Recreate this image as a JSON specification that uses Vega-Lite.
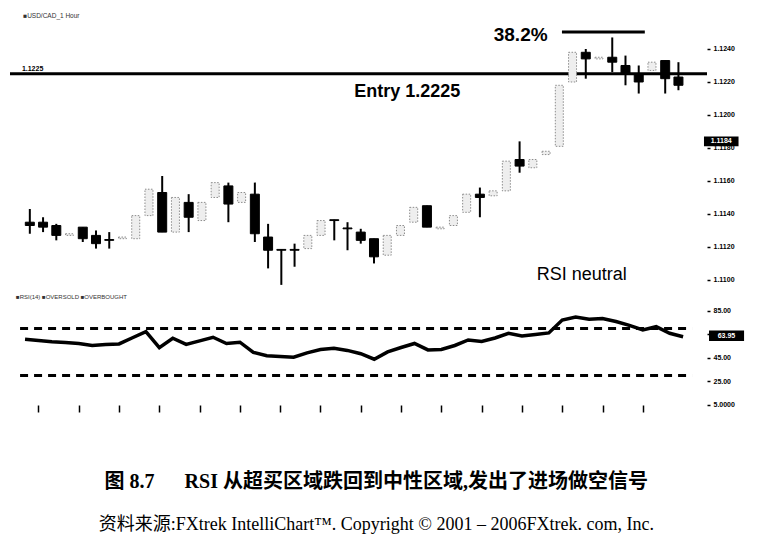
{
  "$schema": "https://vega.github.io/schema/vega-lite/v6.json",
  "background": "white",
  "padding": {"left": 8, "top": 0, "right": 5, "bottom": 5},
  "config": {
    "view": {"stroke": null},
    "axis": {"grid": false, "domain": false, "labelFont": "Liberation Sans", "labelFontSize": 7, "labelFontWeight": "bold", "labelColor": "#000", "tickColor": "#000", "tickWidth": 1.5, "labelOverlap": false}
  },
  "data": {"values": [
    {"i":1,"o":1.1135,"h":1.1143,"l":1.1128,"c":1.1133,"rsi":60.9},
    {"i":2,"o":1.1135,"h":1.1138,"l":1.1129,"c":1.1132,"rsi":59.9},
    {"i":3,"o":1.1133,"h":1.1134,"l":1.1124,"c":1.1127,"rsi":58.8},
    {"i":4,"o":1.1127,"h":1.1128,"l":1.1127,"c":1.1128,"rsi":58.2},
    {"i":5,"o":1.1132,"h":1.1132,"l":1.1123,"c":1.1125,"rsi":57.3},
    {"i":6,"o":1.1127,"h":1.1130,"l":1.1119,"c":1.1122,"rsi":55.6},
    {"i":7,"o":1.11245,"h":1.1129,"l":1.1119,"c":1.1124,"rsi":56.5},
    {"i":8,"o":1.1125,"h":1.1126,"l":1.1125,"c":1.1126,"rsi":56.9},
    {"i":9,"o":1.1125,"h":1.1140,"l":1.1124,"c":1.1139,"rsi":62.2},
    {"i":10,"o":1.1139,"h":1.1156,"l":1.1138,"c":1.1155,"rsi":67.4},
    {"i":11,"o":1.1153,"h":1.1163,"l":1.1129,"c":1.1129,"rsi":53.8},
    {"i":12,"o":1.1129,"h":1.1151,"l":1.1128,"c":1.1150,"rsi":61.8},
    {"i":13,"o":1.1147,"h":1.1152,"l":1.1129,"c":1.1138,"rsi":56.5},
    {"i":14,"o":1.1136,"h":1.1148,"l":1.1135,"c":1.1147,"rsi":59.5},
    {"i":15,"o":1.1150,"h":1.1160,"l":1.1149,"c":1.1159,"rsi":62.6},
    {"i":16,"o":1.1157,"h":1.1159,"l":1.1135,"c":1.1146,"rsi":57.3},
    {"i":17,"o":1.1147,"h":1.1154,"l":1.1146,"c":1.1153,"rsi":58.4},
    {"i":18,"o":1.1152,"h":1.1159,"l":1.1123,"c":1.1128,"rsi":49.7},
    {"i":19,"o":1.1126,"h":1.1134,"l":1.1107,"c":1.1118,"rsi":46.9},
    {"i":20,"o":1.11185,"h":1.11185,"l":1.1097,"c":1.1118,"rsi":46.3},
    {"i":21,"o":1.11185,"h":1.1122,"l":1.1108,"c":1.1118,"rsi":45.6},
    {"i":22,"o":1.1119,"h":1.1128,"l":1.1118,"c":1.1127,"rsi":49.3},
    {"i":23,"o":1.1127,"h":1.1137,"l":1.1126,"c":1.1136,"rsi":52.2},
    {"i":24,"o":1.11365,"h":1.11365,"l":1.1124,"c":1.1136,"rsi":53.2},
    {"i":25,"o":1.11315,"h":1.1135,"l":1.1118,"c":1.1131,"rsi":51.4},
    {"i":26,"o":1.1129,"h":1.1131,"l":1.1122,"c":1.1124,"rsi":48.6},
    {"i":27,"o":1.1125,"h":1.1125,"l":1.1110,"c":1.1114,"rsi":43.9},
    {"i":28,"o":1.1115,"h":1.1128,"l":1.1114,"c":1.1127,"rsi":50.1},
    {"i":29,"o":1.1127,"h":1.1134,"l":1.1126,"c":1.1133,"rsi":53.9},
    {"i":30,"o":1.1135,"h":1.1145,"l":1.1134,"c":1.1144,"rsi":57.3},
    {"i":31,"o":1.1145,"h":1.1145,"l":1.1132,"c":1.1132,"rsi":51.8},
    {"i":32,"o":1.1131,"h":1.1132,"l":1.1131,"c":1.1132,"rsi":52.2},
    {"i":33,"o":1.1133,"h":1.1140,"l":1.1132,"c":1.1139,"rsi":55.6},
    {"i":34,"o":1.1141,"h":1.1153,"l":1.1140,"c":1.1152,"rsi":60.3},
    {"i":35,"o":1.1152,"h":1.1156,"l":1.1138,"c":1.1150,"rsi":59.0},
    {"i":36,"o":1.1151,"h":1.1155,"l":1.1150,"c":1.1154,"rsi":62.0},
    {"i":37,"o":1.1154,"h":1.1173,"l":1.1153,"c":1.1172,"rsi":65.9},
    {"i":38,"o":1.1173,"h":1.1184,"l":1.1165,"c":1.1169,"rsi":63.7},
    {"i":39,"o":1.1168,"h":1.1174,"l":1.1167,"c":1.1173,"rsi":65.0},
    {"i":40,"o":1.1176,"h":1.1178,"l":1.1176,"c":1.1178,"rsi":66.3},
    {"i":41,"o":1.1181,"h":1.1219,"l":1.1180,"c":1.1218,"rsi":77.3},
    {"i":42,"o":1.1220,"h":1.1239,"l":1.1219,"c":1.1238,"rsi":79.9},
    {"i":43,"o":1.1238,"h":1.1240,"l":1.1222,"c":1.1234,"rsi":78.0},
    {"i":44,"o":1.1234,"h":1.1235,"l":1.1234,"c":1.1235,"rsi":78.6},
    {"i":45,"o":1.1235,"h":1.1247,"l":1.1226,"c":1.1232,"rsi":76.0},
    {"i":46,"o":1.1230,"h":1.1236,"l":1.1218,"c":1.1225,"rsi":72.7},
    {"i":47,"o":1.1225,"h":1.1230,"l":1.1213,"c":1.1220,"rsi":68.8},
    {"i":48,"o":1.1227,"h":1.1233,"l":1.1226,"c":1.1232,"rsi":71.6},
    {"i":49,"o":1.1233,"h":1.1233,"l":1.1213,"c":1.1222,"rsi":66.0},
    {"i":50,"o":1.1223,"h":1.1232,"l":1.1215,"c":1.1218,"rsi":63.1}
  ]},
  "title": {
    "text": "图 8.7\u2003\u2002RSI 从超买区域跌回到中性区域,发出了进场做空信号",
    "subtitle": "资料来源:FXtrek IntelliChart™. Copyright © 2001 – 2006FXtrek. com, Inc.",
    "orient": "bottom", "anchor": "middle", "offset": 59,
    "font": "'Liberation Serif', 'Noto Sans CJK SC'", "fontSize": 20, "fontWeight": "bold", "color": "#000",
    "subtitleFont": "'Liberation Serif', 'Noto Sans CJK SC'", "subtitleFontSize": 18, "subtitleColor": "#000", "subtitlePadding": 24
  },
  "spacing": 0,
  "vconcat": [
    {
      "width": 697,
      "height": 290,
      "layer": [
        {
          "data": {"values": [{}]},
          "mark": {"type": "rule", "strokeWidth": 3, "color": "#000"},
          "encoding": {
            "y": {"datum": 1.1225, "type": "quantitative",
              "scale": {"domain": [1.10939, 1.12697], "nice": false, "zero": false},
              "axis": {"orient": "right", "values": [1.11, 1.112, 1.114, 1.116, 1.118, 1.12, 1.122, 1.124], "tickCount": 20, "format": ".4f", "title": null, "tickSize": 3, "labelPadding": 3}}
          }
        },
        {
          "transform": [{"filter": "datum.c < datum.o"}],
          "mark": {"type": "rule", "strokeWidth": 2, "color": "#000"},
          "encoding": {
            "x": {"field": "i", "type": "quantitative", "scale": {"domain": [-0.12, 51.78], "nice": false, "zero": false}, "axis": null},
            "y": {"field": "l", "type": "quantitative", "title": null},
            "y2": {"field": "h"}
          }
        },
        {
          "transform": [{"filter": "datum.c < datum.o"}],
          "mark": {"type": "bar", "orient": "vertical", "size": 9, "color": "#000", "stroke": "#000", "strokeWidth": 1},
          "encoding": {
            "x": {"field": "i", "type": "quantitative", "axis": null},
            "y": {"field": "o", "type": "quantitative", "title": null},
            "y2": {"field": "c"}
          }
        },
        {
          "transform": [{"filter": "datum.c >= datum.o"}],
          "mark": {"type": "bar", "orient": "vertical", "size": 8, "fill": "#eeeeee", "stroke": "#8c8c8c", "strokeWidth": 1, "strokeDash": [1.5, 1.5]},
          "encoding": {
            "x": {"field": "i", "type": "quantitative", "axis": null},
            "y": {"field": "o", "type": "quantitative", "title": null},
            "y2": {"field": "c"}
          }
        },
        {
          "data": {"values": [{}]},
          "mark": {"type": "rule", "strokeWidth": 3, "color": "#000"},
          "encoding": {
            "x": {"datum": 41.2, "type": "quantitative", "axis": null},
            "x2": {"datum": 47.46},
            "y": {"datum": 1.12503, "type": "quantitative"}
          }
        },
        {
          "data": {"values": [{}]},
          "mark": {"type": "text", "text": "38.2%", "font": "Liberation Sans", "fontSize": 19, "fontWeight": "bold", "align": "center", "baseline": "middle", "color": "#000"},
          "encoding": {
            "x": {"datum": 38.08, "type": "quantitative", "axis": null},
            "y": {"datum": 1.12485, "type": "quantitative"}
          }
        },
        {
          "data": {"values": [{}]},
          "mark": {"type": "text", "text": "Entry 1.2225", "font": "Liberation Sans", "fontSize": 18, "fontWeight": "bold", "align": "center", "baseline": "middle", "color": "#000"},
          "encoding": {
            "x": {"datum": 29.52, "type": "quantitative", "axis": null},
            "y": {"datum": 1.12139, "type": "quantitative"}
          }
        },
        {
          "data": {"values": [{}]},
          "mark": {"type": "text", "text": "RSI neutral", "font": "Liberation Sans", "fontSize": 18, "align": "center", "baseline": "middle", "color": "#000"},
          "encoding": {
            "x": {"datum": 42.7, "type": "quantitative", "axis": null},
            "y": {"datum": 1.1103, "type": "quantitative"}
          }
        },
        {
          "data": {"values": [{}]},
          "mark": {"type": "text", "text": "1.1225", "font": "Liberation Sans", "fontSize": 7, "fontWeight": "bold", "align": "left", "baseline": "bottom", "color": "#000"},
          "encoding": {
            "x": {"datum": 0.4, "type": "quantitative", "axis": null},
            "y": {"datum": 1.1226, "type": "quantitative"}
          }
        },
        {
          "data": {"values": [{}]},
          "mark": {"type": "text", "text": "■USD/CAD_1 Hour", "font": "Liberation Sans", "fontSize": 6.5, "align": "left", "baseline": "middle", "color": "#333"},
          "encoding": {
            "x": {"datum": 0.5, "type": "quantitative", "axis": null},
            "y": {"datum": 1.12597, "type": "quantitative"}
          }
        },
        {
          "data": {"values": [{}]},
          "mark": {"type": "rect", "color": "#000"},
          "encoding": {
            "x": {"datum": 51.93, "type": "quantitative", "axis": null},
            "x2": {"datum": 54.54},
            "y": {"datum": 1.1187, "type": "quantitative"},
            "y2": {"datum": 1.1181}
          }
        },
        {
          "data": {"values": [{}]},
          "mark": {"type": "text", "text": "1.1184", "font": "Liberation Sans", "fontSize": 7, "fontWeight": "bold", "align": "center", "baseline": "middle", "color": "#fff"},
          "encoding": {
            "x": {"datum": 53.23, "type": "quantitative", "axis": null},
            "y": {"datum": 1.1184, "type": "quantitative"}
          }
        }
      ]
    },
    {
      "width": 697,
      "height": 115,
      "layer": [
        {
          "data": {"values": [{}]},
          "mark": {"type": "rule", "strokeWidth": 3, "strokeDash": [8, 6], "color": "#000"},
          "encoding": {
            "x": {"datum": 0.63, "type": "quantitative",
              "scale": {"domain": [-0.12, 51.78], "nice": false, "zero": false},
              "axis": {"orient": "bottom", "values": [2, 5, 8, 11, 14, 17, 20, 23, 26, 29, 32, 35, 38, 41, 44, 47], "tickCount": 40, "labels": false, "tickSize": 7, "title": null}},
            "x2": {"datum": 50.67},
            "y": {"datum": 70, "type": "quantitative",
              "scale": {"domain": [4.9, 102.87], "nice": false, "zero": false},
              "axis": {"orient": "right", "values": [5, 25, 45, 65, 85], "tickCount": 10, "format": ".2f", "labelExpr": "datum.value < 10 ? '5.0000' : (datum.value == 65 ? '' : datum.label)", "title": null, "tickSize": 3, "labelPadding": 3, "labelOverlap": false}}
          }
        },
        {
          "data": {"values": [{}]},
          "mark": {"type": "rule", "strokeWidth": 3, "strokeDash": [8, 6], "color": "#000"},
          "encoding": {
            "x": {"datum": 0.63, "type": "quantitative"},
            "x2": {"datum": 50.67},
            "y": {"datum": 30, "type": "quantitative"}
          }
        },
        {
          "mark": {"type": "line", "strokeWidth": 3.5, "color": "#000"},
          "encoding": {
            "x": {"field": "i", "type": "quantitative", "title": null},
            "y": {"field": "rsi", "type": "quantitative", "title": null}
          }
        },
        {
          "data": {"values": [{}]},
          "mark": {"type": "text", "text": "■RSI(14)  ■OVERSOLD  ■OVERBOUGHT", "font": "Liberation Sans", "fontSize": 6, "align": "left", "baseline": "middle", "color": "#333"},
          "encoding": {
            "x": {"datum": 0.33, "type": "quantitative"},
            "y": {"datum": 96.9, "type": "quantitative"}
          }
        },
        {
          "data": {"values": [{}]},
          "mark": {"type": "rect", "color": "#000"},
          "encoding": {
            "x": {"datum": 51.93, "type": "quantitative"},
            "x2": {"datum": 54.54},
            "y": {"datum": 68.4, "type": "quantitative"},
            "y2": {"datum": 59.5}
          }
        },
        {
          "data": {"values": [{}]},
          "mark": {"type": "text", "text": "63.95", "font": "Liberation Sans", "fontSize": 7, "fontWeight": "bold", "align": "center", "baseline": "middle", "color": "#fff"},
          "encoding": {
            "x": {"datum": 53.23, "type": "quantitative"},
            "y": {"datum": 63.95, "type": "quantitative"}
          }
        }
      ]
    }
  ]
}
